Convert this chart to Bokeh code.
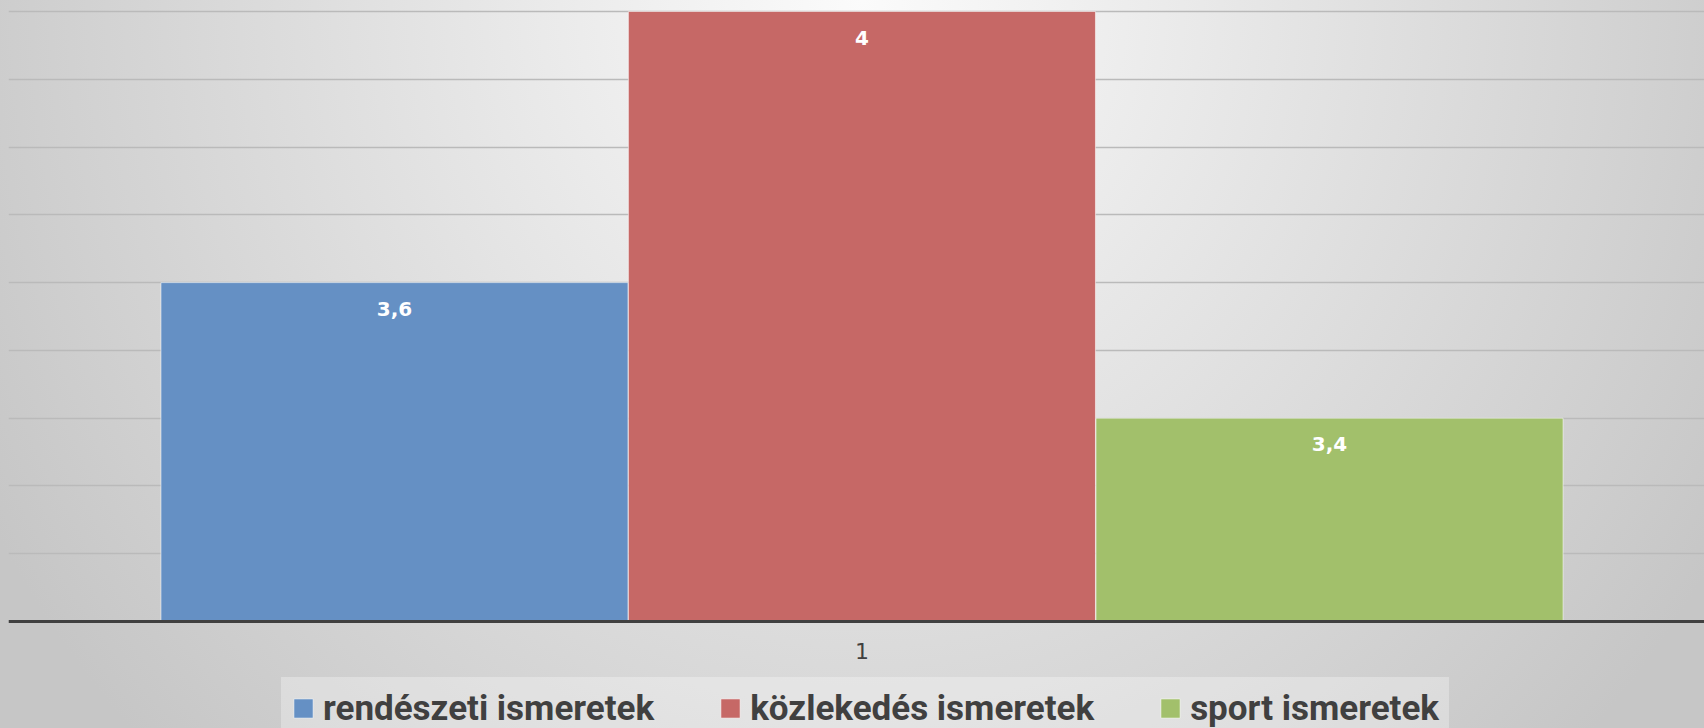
from bokeh.plotting import figure
from bokeh.models import (ColumnDataSource, FactorRange, Range1d, FixedTicker, Span,
                          Legend, LegendItem, GlobalInlineStyleSheet)
from bokeh.transform import dodge
from bokeh.core.properties import value
from bokeh.embed import file_html
from bokeh.resources import INLINE

# ---- data ----
categories = ["1"]
series_names = ["rendészeti ismeretek", "közlekedés ismeretek", "sport ismeretek"]
rendeszeti = [3.6]
kozlekedes = [4.0]
sport = [3.4]
series_values = [rendeszeti, kozlekedes, sport]
y_start = 3.1
grid_step = 0.1
n_grid = 10

# ---- layout / styles ----
y_top = 4.01623      # view top (a little above 4.0)
y_bottom = 2.94214   # view bottom (room below the baseline for label + legend)
colors = ["#6590c4", "#c66866", "#a2c06b"]
offsets = [-0.2724, 0.0032, 0.2789]
bar_width = 0.2754

def fmt(v):
    return ("%g" % v).replace(".", ",")

p = figure(width=1704, height=728, x_range=FactorRange(factors=categories, range_padding=0),
           y_range=Range1d(y_bottom, y_top), output_backend="svg", toolbar_location=None,
           min_border_left=8, min_border_right=0, min_border_top=0, min_border_bottom=0)

p.stylesheets = [GlobalInlineStyleSheet(css="""
html { min-height: 100%; overflow: hidden;
  background: radial-gradient(ellipse 1000px 1070px at 862px 0px, #fbfbfb 0%, #c6c6c6 100%); }
body { background: transparent; overflow: hidden; }
""")]

p.background_fill_alpha = 0
p.border_fill_alpha = 0
p.outline_line_color = None

p.yaxis.visible = False
p.xaxis.visible = False
p.xgrid.grid_line_color = None
p.ygrid.ticker = FixedTicker(ticks=[round(y_start + grid_step * i, 3) for i in range(n_grid)])
p.ygrid.grid_line_color = "#bababa"
p.ygrid.grid_line_width = 1.5

items = []
for name, vals, col, off in zip(series_names, series_values, colors, offsets):
    src = ColumnDataSource(dict(cat=categories, val=vals, lab=[fmt(v) for v in vals]))
    r = p.vbar(x=dodge("cat", off, range=p.x_range), top="val", bottom=y_start, width=bar_width,
               source=src, fill_color=col, line_color="white", line_alpha=0.55, line_width=1)
    p.text(x=dodge("cat", off, range=p.x_range), y="val", text="lab", source=src,
           y_offset=26, text_align="center", text_baseline="middle",
           text_font=value("DejaVu Sans"), text_font_style="bold", text_font_size="20px",
           text_color="white")
    items.append(LegendItem(label=name, renderers=[r]))

# category axis line and label
p.add_layout(Span(location=y_start, dimension="width", line_color="#404040", line_width=3))
cat_src = ColumnDataSource(dict(cat=categories, base=[y_start] * len(categories)))
p.text(x=dodge("cat", offsets[1], range=p.x_range), y="base", text="cat", source=cat_src,
       y_offset=29, text_align="center", text_baseline="middle",
       text_font=value("DejaVu Sans"), text_font_size="22px", text_color="#404040")

legend = Legend(items=items, orientation="horizontal", location=(273, -11),
                padding=10, spacing=64, label_standoff=8, glyph_width=24, glyph_height=24,
                label_height=42,
                label_text_font="Roboto", label_text_font_style="bold",
                label_text_font_size="35px", label_text_color="#404040",
                background_fill_color="white", background_fill_alpha=0.3,
                border_line_alpha=0, margin=0)
p.add_layout(legend, "center")

html = file_html(p, INLINE)
open("out.html", "w").write(html)
